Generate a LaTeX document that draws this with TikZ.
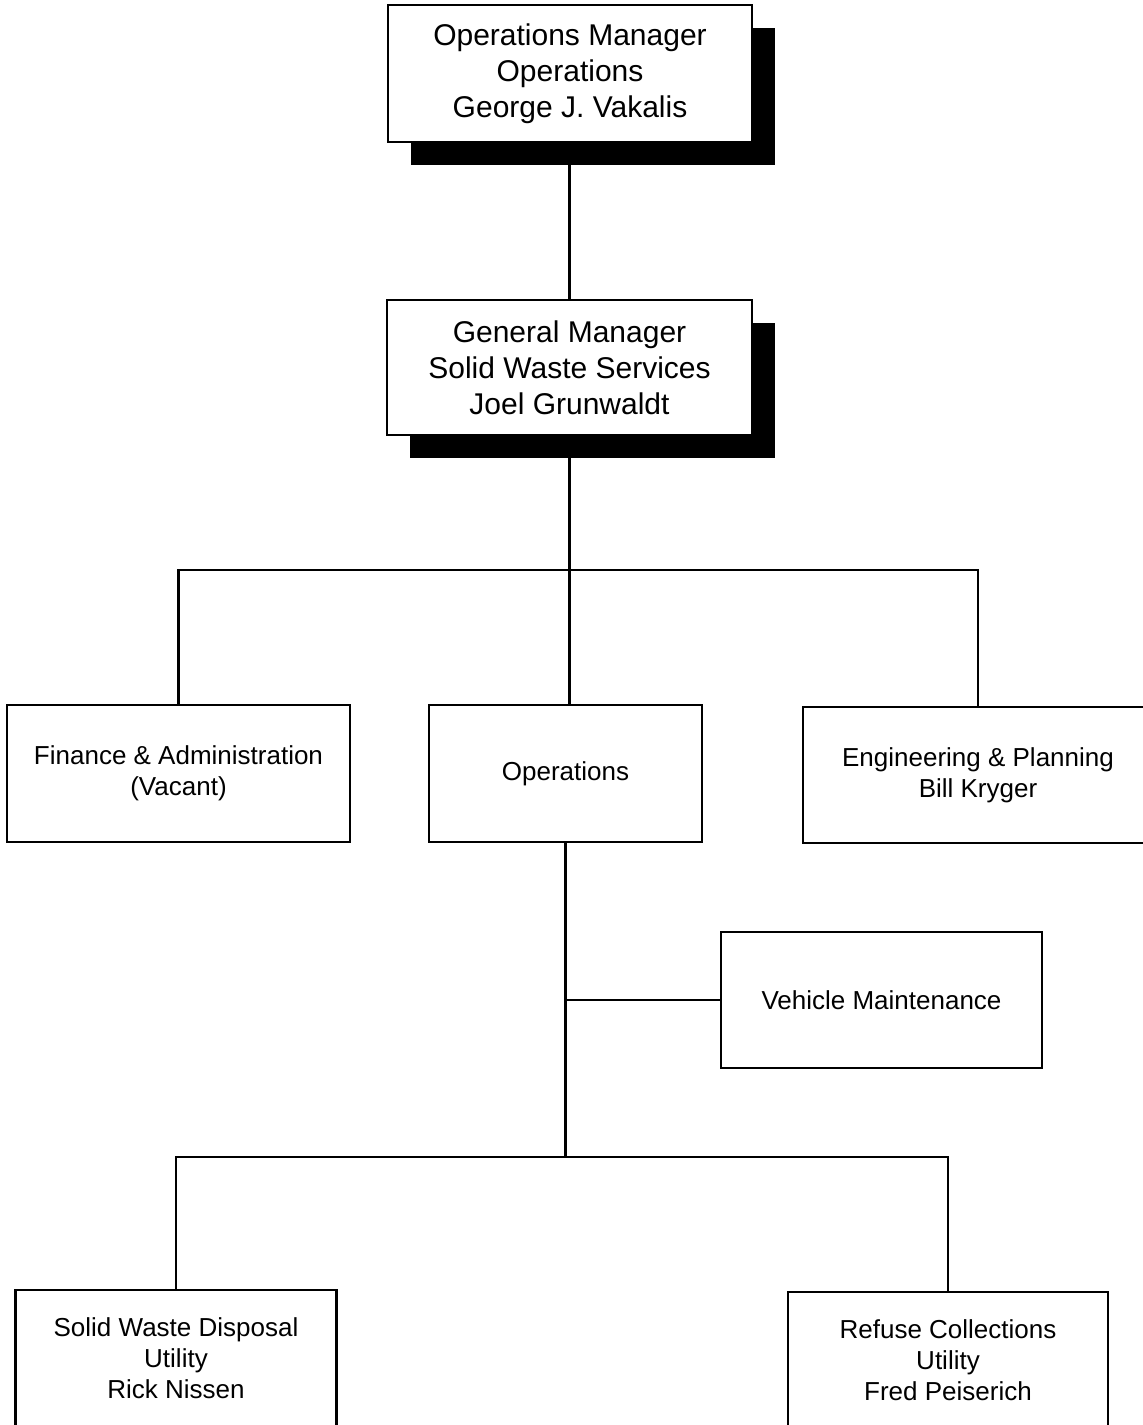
\documentclass[tikz,border=0pt]{standalone}
\usepackage{fontspec}
\setmainfont{Liberation Sans}
\usetikzlibrary{shadows}
\begin{document}
\begin{tikzpicture}[x=0.5pt,y=-0.5pt,
    unit/.style={draw,line width=1.4pt,fill=white,align=center,inner sep=0pt,
      font=\fontsize{13}{15.5}\selectfont},
    head/.style={unit,font=\fontsize{15}{18}\selectfont,
      drop shadow={shadow xshift=11.5pt,shadow yshift=-11.5pt,fill=black,opacity=1}},
    link/.style={line width=1.1pt}]
  \useasboundingbox (0,0) rectangle (1143,1425);
  \node[head,minimum width=182pt,minimum height=68.5pt] (opsmgr) at (570,73.5)
    {Operations Manager\\Operations\\George J. Vakalis};
  \node[head,minimum width=182.5pt,minimum height=67.5pt] (genmgr) at (569.5,367.5)
    {General Manager\\Solid Waste Services\\Joel Grunwaldt};
  \node[unit,minimum width=171.5pt,minimum height=68.5pt] (finance) at (178.5,773.5)
    {Finance \& Administration\\(Vacant)};
  \node[unit,minimum width=136.5pt,minimum height=68.5pt] (ops) at (565.5,773.5)
    {Operations};
  \node[unit,minimum width=175pt,minimum height=68pt] (engin) at (978,775)
    {Engineering \& Planning\\Bill Kryger};
  \node[unit,minimum width=160.5pt,minimum height=68pt] (vehicle) at (881.5,1000)
    {Vehicle Maintenance};
  \node[unit,minimum width=160.5pt,minimum height=68pt] (disposal) at (176,1358)
    {Solid Waste Disposal\\Utility\\Rick Nissen};
  \node[unit,minimum width=160pt,minimum height=68pt] (refuse) at (948,1360)
    {Refuse Collections\\Utility\\Fred Peiserich};
  \coordinate (busA) at (567,570);
  \coordinate (busB) at (565,1157);
  \draw[link] (opsmgr.south) -- (genmgr.south |- opsmgr.south) -- (genmgr.north);
  \draw[link] (genmgr.south) -- (genmgr.south |- ops.north);
  \draw[link] (finance.north) |- (busA) -| (engin.north);
  \draw[link] (ops.south) -- (ops.south |- busB);
  \draw[link] (ops.south |- vehicle.west) -- (vehicle.west);
  \draw[link] (disposal.north) |- (busB) -| (refuse.north);
\end{tikzpicture}
\end{document}
